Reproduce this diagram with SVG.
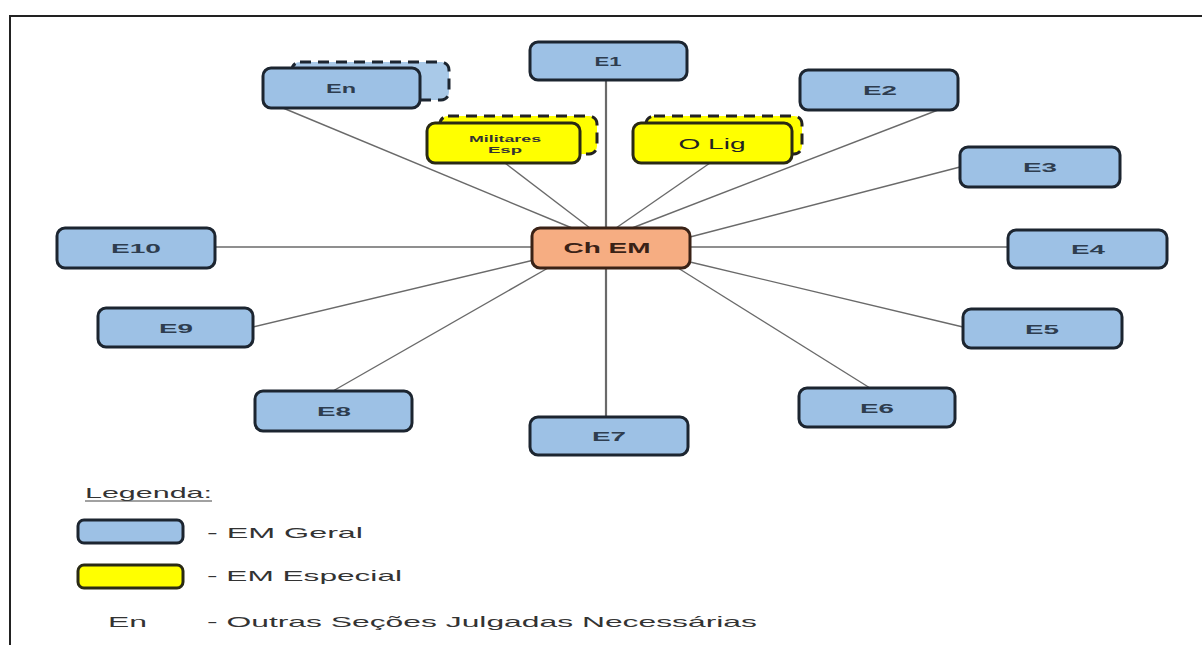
<svg xmlns="http://www.w3.org/2000/svg" width="1202" height="645" viewBox="0 0 1202 645">
<style>
.b{fill:#9dc1e5;stroke:#1c2530;stroke-width:3}
.y{fill:#ffff00;stroke:#2a2a14;stroke-width:3}
.o{fill:#f6ad82;stroke:#3a2216;stroke-width:3}
.sb{fill:#a9c9e8;stroke:#1c2530;stroke-width:3;stroke-dasharray:11 7}
.sy{fill:#ffff00;stroke:#222;stroke-width:3;stroke-dasharray:11 7}
.t{font-family:"Liberation Sans",Arial,sans-serif;font-size:13px;fill:#2e3d4f;font-weight:bold;text-anchor:middle}
.ts{font-family:"Liberation Sans",Arial,sans-serif;font-size:9px;fill:#333;font-weight:bold;text-anchor:middle}
.l{font-family:"Liberation Sans",Arial,sans-serif;font-size:15px;fill:#333}
.c line{stroke:#6a6a6a;stroke-width:1.4}
</style>
<rect width="1202" height="645" fill="#fff"/>
<path d="M10,645 V16 H1202" fill="none" stroke="#222" stroke-width="2"/>
<g class="c" id="connectors">
<line x1="606" y1="80" x2="606" y2="417" style="stroke-width:2.2"/>
<line x1="283" y1="108" x2="572" y2="228"/>
<line x1="505" y1="163" x2="590" y2="228"/>
<line x1="710" y1="163" x2="616" y2="228"/>
<line x1="938" y1="110" x2="632" y2="228"/>
<line x1="960" y1="167" x2="690" y2="237"/>
<line x1="690" y1="247" x2="1008" y2="247"/>
<line x1="690" y1="262" x2="963" y2="327"/>
<line x1="870" y1="388" x2="678" y2="268"/>
<line x1="333" y1="391" x2="548" y2="268"/>
<line x1="253" y1="327" x2="534" y2="260"/>
<line x1="215" y1="247" x2="532" y2="247"/>
</g>
<g id="en"><rect class="sb" x="292" y="62" width="157" height="38" rx="8"/><rect class="b" x="263" y="68" width="157" height="40" rx="8"/><text class="t" x="341" y="93" textLength="30" lengthAdjust="spacingAndGlyphs">En</text></g>
<g id="e1"><rect class="b" x="530" y="42" width="157" height="38" rx="8"/><text class="t" x="608" y="66" textLength="27" lengthAdjust="spacingAndGlyphs">E1</text></g>
<g id="e2"><rect class="b" x="800" y="70" width="158" height="40" rx="8"/><text class="t" x="880" y="95" textLength="34" lengthAdjust="spacingAndGlyphs">E2</text></g>
<g id="militares"><rect class="sy" x="440" y="116" width="157" height="38" rx="8"/><rect class="y" x="427" y="123" width="153" height="40" rx="8"/><text class="ts" x="505" y="142" textLength="72" lengthAdjust="spacingAndGlyphs">Militares</text><text class="ts" x="505" y="153" textLength="34" lengthAdjust="spacingAndGlyphs">Esp</text></g>
<g id="olig"><rect class="sy" x="646" y="116" width="156" height="38" rx="8"/><rect class="y" x="633" y="123" width="159" height="40" rx="8"/><text class="t" x="712" y="149" textLength="67" lengthAdjust="spacingAndGlyphs" style="font-size:15px;font-weight:normal;fill:#222">O Lig</text></g>
<g id="e3"><rect class="b" x="960" y="147" width="160" height="40" rx="8"/><text class="t" x="1040" y="172" textLength="34" lengthAdjust="spacingAndGlyphs">E3</text></g>
<g id="e10"><rect class="b" x="57" y="228" width="158" height="40" rx="8"/><text class="t" x="136" y="253" textLength="50" lengthAdjust="spacingAndGlyphs">E10</text></g>
<g id="chem"><rect class="o" x="532" y="228" width="158" height="40" rx="8"/><text class="t" x="607" y="253" textLength="87" lengthAdjust="spacingAndGlyphs" style="font-size:15px;fill:#3a2216">Ch EM</text></g>
<g id="e4"><rect class="b" x="1008" y="230" width="159" height="38" rx="8"/><text class="t" x="1088" y="254" textLength="34" lengthAdjust="spacingAndGlyphs">E4</text></g>
<g id="e9"><rect class="b" x="98" y="308" width="155" height="39" rx="8"/><text class="t" x="176" y="333" textLength="34" lengthAdjust="spacingAndGlyphs">E9</text></g>
<g id="e5"><rect class="b" x="963" y="309" width="159" height="39" rx="8"/><text class="t" x="1042" y="334" textLength="34" lengthAdjust="spacingAndGlyphs">E5</text></g>
<g id="e8"><rect class="b" x="255" y="391" width="157" height="40" rx="8"/><text class="t" x="334" y="416" textLength="34" lengthAdjust="spacingAndGlyphs">E8</text></g>
<g id="e6"><rect class="b" x="799" y="388" width="156" height="39" rx="8"/><text class="t" x="877" y="413" textLength="34" lengthAdjust="spacingAndGlyphs">E6</text></g>
<g id="e7"><rect class="b" x="530" y="417" width="158" height="38" rx="8"/><text class="t" x="609" y="441" textLength="34" lengthAdjust="spacingAndGlyphs">E7</text></g>
<g id="legend">
<text class="l" x="85" y="498" textLength="127" lengthAdjust="spacingAndGlyphs">Legenda:</text>
<line x1="85" y1="501" x2="212" y2="501" stroke="#444" stroke-width="1.2"/>
<rect class="b" x="78" y="520" width="105" height="23" rx="6"/>
<text class="l" x="207" y="538" textLength="156" lengthAdjust="spacingAndGlyphs">- EM Geral</text>
<rect class="y" x="78" y="565" width="105" height="23" rx="6"/>
<text class="l" x="207" y="581" textLength="195" lengthAdjust="spacingAndGlyphs">- EM Especial</text>
<text class="l" x="108" y="627" textLength="39" lengthAdjust="spacingAndGlyphs">En</text>
<text class="l" x="207" y="627" textLength="550" lengthAdjust="spacingAndGlyphs">- Outras Seções Julgadas Necessárias</text>
</g>
</svg>
